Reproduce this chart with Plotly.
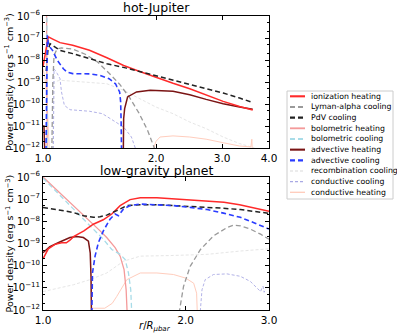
import plotly.graph_objects as go

# ---- hot-Jupiter panel: radius (r/R) and log10 power density ----
hj_ion_r = [1.0, 1.017, 1.033, 1.065, 1.11, 1.2, 1.33, 1.48, 1.64, 1.81, 2.0, 2.22, 2.46, 2.72, 3.02, 3.34, 3.62]
hj_ion_p = [-8.3, -7.5, -6.95, -7.06, -7.21, -7.33, -7.56, -7.9, -8.25, -8.52, -8.8, -9.06, -9.31, -9.58, -9.88, -10.11, -10.27]

hj_lya_r = [1.055, 1.062, 1.07, 1.09, 1.12, 1.2, 1.3, 1.4, 1.5, 1.6, 1.7, 1.8, 1.9, 2.0]
hj_lya_p = [-12.5, -9.0, -7.8, -7.5, -7.45, -7.5, -7.75, -8.1, -8.6, -9.1, -9.7, -10.4, -11.2, -12.2]

hj_pdv_r = [1.02, 1.03, 1.044, 1.11, 1.2, 1.33, 1.48, 1.67, 1.81, 2.0, 2.22, 2.46, 2.72, 3.02, 3.34, 3.59]
hj_pdv_p = [-8.5, -7.6, -7.26, -7.56, -7.71, -7.94, -8.17, -8.37, -8.52, -8.70, -8.92, -9.12, -9.30, -9.50, -9.73, -9.91]

hj_bolh_r = [1.0, 1.022, 1.026]
hj_bolh_p = [-5.0, -5.6, -12.5]

hj_bolc_r = [1.0, 1.024, 1.028]
hj_bolc_p = [-5.0, -5.6, -12.5]

hj_advh_r = [1.0, 1.006, 1.012, None, 1.636, 1.64, 1.65, 1.68, 1.775, 1.93, 2.22, 2.46, 2.72, 3.02, 3.34, 3.62]
hj_advh_p = [-11.0, -11.0, -12.5, None, -12.5, -10.67, -10.21, -9.68, -9.45, -9.38, -9.42, -9.58, -9.79, -9.99, -10.14, -10.24]

hj_advc_r = [1.018, 1.022, 1.027, 1.035, 1.045, 1.06, 1.09, 1.133, 1.16, 1.2, 1.33, 1.42, 1.5, 1.56, 1.6, 1.61, 1.615, 1.62]
hj_advc_p = [-12.5, -8.5, -6.88, -7.33, -7.41, -7.56, -8.0, -8.4, -8.55, -8.62, -8.63, -8.7, -8.85, -9.08, -9.45, -9.9, -10.8, -12.5]

hj_rec_r = [1.06, 1.07, 1.11, 1.33, 1.48, 1.64, 1.81, 2.0, 2.22, 2.46, 2.72, 3.02, 3.34, 3.66]
hj_rec_p = [-12.5, -9.0, -8.92, -9.0, -9.08, -9.38, -9.76, -10.14, -10.44, -10.82, -11.12, -11.5, -11.8, -12.0]

hj_cc_r = [1.065, 1.07, 1.09, 1.11, 1.12, 1.14, 1.18, 1.33, 1.44, 1.54, 1.64, 1.72, 1.77]
hj_cc_p = [-12.5, -8.4, -8.6, -8.85, -9.45, -10.06, -10.26, -10.33, -10.44, -10.74, -11.05, -11.5, -12.1]

hj_ch_r = [1.0, 1.012, 1.025, 1.035, 1.042, None, 1.925, 2.0, 2.05, 2.22, 2.46, 2.72, 3.02, 3.34, 3.58, 3.6, 3.62]
hj_ch_p = [-8.4, -8.8, -9.8, -11.0, -12.5, None, -12.5, -11.7, -11.5, -11.45, -11.5, -11.6, -11.76, -11.91, -11.95, -11.6, -12.5]

# ---- low-gravity planet panel ----
lg_ion_r = [1.0, 1.026, 1.06, 1.095, 1.12, 1.14, 1.16, 1.22, 1.277, 1.34, 1.397, 1.455, 1.527, 1.605, 1.74, 1.886, 2.04, 2.22, 2.41, 2.6, 2.79, 3.0]
lg_ion_p = [-9.69, -9.24, -9.04, -8.97, -8.97, -8.85, -8.69, -8.43, -8.13, -7.93, -7.67, -7.29, -7.02, -6.94, -6.94, -6.99, -7.03, -7.08, -7.14, -7.25, -7.4, -7.55]

lg_lya_r = [1.925, 1.98, 2.045, 2.15, 2.29, 2.445, 2.526, 2.61, 2.74, 2.88, 3.0]
lg_lya_p = [-12.5, -10.94, -10.03, -9.27, -8.66, -8.28, -8.17, -8.2, -8.35, -8.58, -8.81]

lg_pdv_r = [1.0, 1.069, 1.159, 1.217, 1.278, 1.32, 1.363, 1.431, 1.503, 1.604, 1.74, 1.886, 2.045, 2.22, 2.405, 2.61, 2.78, 3.0]
lg_pdv_p = [-7.37, -7.47, -7.6, -7.75, -7.82, -7.79, -7.72, -7.52, -7.29, -7.25, -7.25, -7.29, -7.32, -7.37, -7.41, -7.47, -7.56, -7.64]

lg_bolh_r = [1.0, 1.159, 1.257, 1.32, 1.363, 1.42, 1.455, 1.483, 1.498, 1.508]
lg_bolh_p = [-6.0, -7.29, -7.97, -8.43, -8.73, -9.19, -9.57, -10.18, -11.09, -12.5]

lg_bolc_r = [1.0, 1.159, 1.257, 1.341, 1.397, 1.455, 1.491, 1.515, 1.532, 1.542]
lg_bolc_p = [-6.05, -7.44, -8.2, -8.81, -9.27, -9.49, -9.72, -10.33, -11.09, -12.5]

lg_advh_r = [1.0, 1.034, 1.085, 1.14, 1.178, 1.217, 1.247, 1.258, 1.263, 1.266]
lg_advh_p = [-9.42, -9.14, -8.93, -8.73, -8.69, -8.73, -8.89, -9.42, -10.5, -12.5]

lg_advc_r = [1.267, 1.272, 1.288, 1.309, 1.341, 1.385, 1.42, 1.443, 1.479, 1.527, 1.604, 1.74, 1.886, 2.045, 2.22, 2.405, 2.61, 2.78, 3.0]
lg_advc_p = [-12.5, -10.33, -9.57, -8.96, -8.43, -7.9, -7.67, -7.75, -7.44, -7.29, -7.22, -7.25, -7.29, -7.37, -7.47, -7.63, -7.82, -8.05, -8.35]

lg_rec_r = [1.0, 1.085, 1.16, 1.257, 1.363, 1.479, 1.604, 1.886, 2.22, 2.61, 3.0]
lg_rec_p = [-11.17, -11.01, -10.86, -10.63, -10.33, -9.8, -9.57, -9.54, -9.49, -9.34, -9.24]

lg_cc_r = [2.14, 2.166, 2.2, 2.29, 2.445, 2.61, 2.74, 2.83, 2.88, 2.9, 2.915, 2.93, 2.95]
lg_cc_p = [-12.5, -11.09, -10.63, -10.4, -10.37, -10.48, -10.71, -11.01, -11.17, -11.0, -10.93, -11.2, -11.05]

lg_ch_r = [1.262, 1.27, 1.35, 1.40, 1.431, 1.503, 1.605, 1.74, 1.886, 2.0, 2.08, 2.11, 2.12]
lg_ch_p = [-12.5, -11.92, -11.92, -11.7, -11.39, -10.63, -10.33, -10.33, -10.4, -10.56, -10.79, -11.24, -12.5]

names = ["ionization heating", "Lyman-alpha cooling", "PdV cooling", "bolometric heating",
         "bolometric cooling", "advective heating", "advective cooling",
         "recombination cooling", "conductive cooling", "conductive heating"]
styles = [
    dict(color="#ff2a2a", width=1.5, dash="solid"),
    dict(color="#9a9a9a", width=1.3, dash="5px,3px"),
    dict(color="#222222", width=1.5, dash="5px,3px"),
    dict(color="#f49a9a", width=1.3, dash="solid"),
    dict(color="#a8dce8", width=1.3, dash="5px,3px"),
    dict(color="#7a1414", width=1.5, dash="solid"),
    dict(color="#2a3cff", width=1.6, dash="5px,3px"),
    dict(color="#e6e6e6", width=1.0, dash="3px,2px"),
    dict(color="#a9a9e4", width=0.9, dash="3px,2px"),
    dict(color="#ffcdbd", width=1.0, dash="solid"),
]

hj = [(hj_ion_r, hj_ion_p), (hj_lya_r, hj_lya_p), (hj_pdv_r, hj_pdv_p), (hj_bolh_r, hj_bolh_p),
      (hj_bolc_r, hj_bolc_p), (hj_advh_r, hj_advh_p), (hj_advc_r, hj_advc_p),
      (hj_rec_r, hj_rec_p), (hj_cc_r, hj_cc_p), (hj_ch_r, hj_ch_p)]
lg = [(lg_ion_r, lg_ion_p), (lg_lya_r, lg_lya_p), (lg_pdv_r, lg_pdv_p), (lg_bolh_r, lg_bolh_p),
      (lg_bolc_r, lg_bolc_p), (lg_advh_r, lg_advh_p), (lg_advc_r, lg_advc_p),
      (lg_rec_r, lg_rec_p), (lg_cc_r, lg_cc_p), (lg_ch_r, lg_ch_p)]

# draw order: faint lines first
order = [7, 9, 8, 3, 4, 1, 5, 0, 2, 6]


def power(p):
    return [None if v is None else 10 ** v for v in p]


fig = go.Figure()
for panel, (xa, ya) in ((hj, ("x", "y")), (lg, ("x2", "y2"))):
    for i in order:
        r, p = panel[i]
        fig.add_trace(go.Scatter(x=r, y=power(p), mode="lines", name=names[i],
                                 line=styles[i], xaxis=xa, yaxis=ya,
                                 showlegend=False, hoverinfo="skip"))

W, H = 397, 335
L, R, T, B = 43, 128, 16, 25


def px(x):
    return (x - L) / (W - L - R)


def py(y):
    return (H - B - y) / (H - T - B)


ytick_vals = [1e-12, 1e-11, 1e-10, 1e-9, 1e-8, 1e-7, 1e-6]
ytick_text = ["10<sup>\u2212%d</sup>" % k for k in (12, 11, 10, 9, 8, 7, 6)]

axis_common = dict(showline=True, linecolor="black", linewidth=1, mirror="ticks",
                   ticks="inside", ticklen=4, tickcolor="black", showgrid=False,
                   zeroline=False, type="log", automargin=False,
                   tickfont=dict(size=10.5, color="black"))

fig.update_layout(
    width=W, height=H,
    margin=dict(l=L, r=R, t=T, b=B, autoexpand=False),
    paper_bgcolor="white", plot_bgcolor="white",
    font=dict(family="DejaVu Sans", color="black"),
    xaxis=dict(axis_common, domain=[0, 1], range=[0, 0.60206], anchor="y",
               tickvals=[1, 2, 3, 4], ticktext=["1.0", "2.0", "3.0", "4.0"]),
    yaxis=dict(axis_common, domain=[py(148), 1], range=[-12, -6], anchor="x",
               tickvals=ytick_vals, ticktext=ytick_text, tickfont=dict(size=10),
               minor=dict(ticks="inside", ticklen=2, tickcolor="black")),
    xaxis2=dict(axis_common, domain=[0, 1], range=[0, 0.47712], anchor="y2",
                tickvals=[1, 2, 3], ticktext=["1.0", "2.0", "3.0"]),
    yaxis2=dict(axis_common, domain=[0, py(177)], range=[-12, -6], anchor="x2",
                tickvals=ytick_vals, ticktext=ytick_text, tickfont=dict(size=10),
                minor=dict(ticks="inside", ticklen=2, tickcolor="black")),
)

ann = []
ann.append(dict(text="hot-Jupiter", x=0.5, y=py(8), xref="paper", yref="paper",
                showarrow=False, font=dict(size=12.5), xanchor="center", yanchor="middle"))
ann.append(dict(text="low-gravity planet", x=0.5, y=py(170), xref="paper", yref="paper",
                showarrow=False, font=dict(size=12.5), xanchor="center", yanchor="middle"))
ylab = "Power density (erg s<sup>\u22121</sup> cm<sup>\u22123</sup>)"
for yc in ((16 + 148) / 2, (177 + 310) / 2):
    ann.append(dict(text=ylab, x=px(9), y=py(yc), xref="paper", yref="paper",
                    showarrow=False, textangle=-90, font=dict(size=9.5),
                    xanchor="center", yanchor="middle"))
ann.append(dict(text="<i>r</i>/<i>R</i><sub><i>\u03bcbar</i></sub>", x=px(155), y=py(326),
                xref="paper", yref="paper", showarrow=False, font=dict(size=10),
                xanchor="center", yanchor="middle"))

shapes = [dict(type="rect", xref="paper", yref="paper", x0=px(287), x1=px(393),
               y0=py(199), y1=py(91), line=dict(color="#cccccc", width=1),
               fillcolor="white", layer="above")]
for k, name in enumerate(names):
    yy = 96.3 + k * 10.67
    st = styles[k]
    shapes.append(dict(type="line", xref="paper", yref="paper", x0=px(290), x1=px(305),
                       y0=py(yy), y1=py(yy), layer="above",
                       line=dict(color=st["color"], width=max(st["width"] * 1.4, 1.2),
                                 dash=st["dash"])))
    ann.append(dict(text=name, x=px(309), y=py(yy), xref="paper", yref="paper",
                    showarrow=False, font=dict(size=7.8), xanchor="left", yanchor="middle"))

fig.update_layout(annotations=ann, shapes=shapes)

# the page's default body margin would shift the figure by 8px
fig.write_html("out.html", config={"displayModeBar": False},
               post_script="document.body.style.margin='0';")
